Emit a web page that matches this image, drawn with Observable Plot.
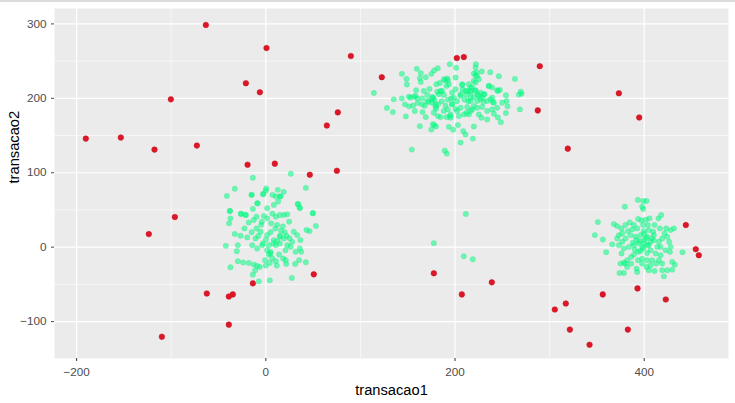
<!DOCTYPE html>
<html><head><meta charset="utf-8">
<script src="https://cdn.jsdelivr.net/npm/d3@7"></script>
<script src="https://cdn.jsdelivr.net/npm/@observablehq/plot@0.6"></script>
<style>
html,body{margin:0;padding:0;background:#fff;}
body{border-top:2px solid #dcdcdc;box-sizing:border-box;width:735px;height:403px;overflow:hidden;}
#chart svg{display:block;}
</style></head><body><div id="chart"></div>
<script>
// outliers (red)
const redX = [-190.3,-153.3,-117.7,-100.4,-72.9,-63.4,-21.1,-6.3,0.7,-19.3,9.5,46.5,75.1,64.5,76.1,89.9,
  122.6,201.9,209.3,289.6,287.5,373.2,394.7,319.2,
  -96.2,-123.7,50.7,-13.7,-62.4,-39.1,-34.9,-39.1,-109.9,
  177.6,207.2,238.9,305.5,317.1,321.4,342.2,356.2,382.7,392.9,422.8,444,454.5,457.7];
const redY = [145.9,147.3,131.1,198.6,136.5,298.6,220.3,208.1,267.6,110.8,112.2,97.3,102.7,163.5,181.1,256.8,
  228.4,254.1,255.4,243.2,183.8,206.8,174.3,132.4,
  40.5,17.6,-36.5,-48.6,-62.2,-66.2,-63.5,-104.1,-120.3,
  -35.1,-63.5,-47.3,-83.8,-75.7,-110.8,-131.1,-63.5,-110.8,-55.4,-70.3,29.7,-2.7,-10.8];

// regular transactions (green)
const greenX = [
  // cluster near (0, 20)
  -13.7,-32.8,-41.2,-14.8,-2.7,0.4,-0.1,7.1,12.7,19,26.4,42.3,10.6,15,
  -8.5,33.8,35.9,49.7,-38,-26.4,-21.5,
  -15.2,-9.2,-2.8,1.4,8.5,13,15.5,34.2,35.9,-38,-26.1,-21.1,-13.7,-37.4,-38.8,49.7,52.9,46.2,43,
  -32.8,-26.8,-19.7,-22.6,-18,-12.7,-9.9,-4.2,1.4,5.6,10.6,14.8,19,22.6,24.7,29.6,33.1,36.6,37.4,35.9,
  27.8,22.6,19,14.8,8.5,1.4,-5.6,-10.9,-14.4,-9.2,-3.9,1.4,4.9,3.2,-42.3,-29.6,-30.7,-29.6,-24,-18,
  -12.7,-9.2,-6.3,-0.7,4.2,6.7,10.6,14.1,18.3,21.1,21.5,31,35.2,42.3,27.5,4.2,-7.4,-11.3,-13.7,-37.4,
  0,11.6,4.9,10.6,14.8,20.8,26.1,31.4,
  5,10,-5,15,0,20,-10,8,12,-2,18,3,-8,25,7,-15,12,16,22,-3,
  // cluster near (200, 200)
  114.2,154.3,189.2,191.3,
  143.8,148.7,149.1,159.6,163.8,162.8,163.8,169.1,175.1,177.9,181.8,194.5,201.2,222,228.3,237.2,246.3,263.3,
  269.4,270.3,267.5,268.6,253.8,254.5,255.5,253.8,248.5,245.3,241.1,234,228,225.2,219.9,218.9,211.1,208.7,
  205.9,203,198.1,193.5,195.3,191.1,184.7,178,174.9,179.8,176.6,162.8,169.1,165.7,157.5,148,134.3,128,
  135.3,143.8,147,151.2,156.6,151.5,155.8,160.7,165.3,170.6,175.9,179.4,177,181.3,184.7,188.2,192.4,197,
  200.6,195.3,188.2,184,189.6,191.7,180.4,173,167,158.9,170.6,207.6,214.6,216.4,219.9,221.7,222.7,225.2,
  219.9,211.1,216.4,221.7,227,230.5,235.8,239.3,244.6,247.4,239.3,234,228.7,223.4,216.4,210.1,205.9,212.9,
  218.2,223.4,228.7,234,239.3,244.6,249.9,205.9,200.6,197,209.4,214.6,204.1,193.5,200.6,221.7,
  172,178,182,176,186,168,180,212,216,220,208,214,218,224,190,196,202,230,240,160,
  175.1,179.4,182.9,186.4,191,192.4,188.2,196.9,198.7,205.8,207.6,212.9,216.4,221.7,223.5,221.7,225.2,227,
  231.2,235.8,237.5,241.1,245.3,177.6,181.9,192.4,194.5,202.3,212.2,216.4,219.9,165.3,158.3,152.8,
  // stragglers below
  177.6,211.4,209.3,218.8,
  // cluster near (400, 10)
  393.3,398.9,402.4,397.9,398.9,379.5,351,347.8,356.3,359.8,366.2,367.9,371.4,376,380.2,384.8,389.1,393.6,
  397.1,401.7,405.6,410.9,415.1,418,416.6,423.2,427.9,431.4,424.3,426.4,427.9,427.2,429.6,432.4,429.6,424.3,
  420.8,419,415.5,410.9,404.9,402.4,392.6,391.9,378.5,373.9,374.9,378.5,382,386.2,389.1,393.6,398.9,403.1,
  406.7,410.2,415.5,419,421.5,409.5,404.9,399.6,396.1,390.8,385.5,380.2,376.7,373.2,378.5,383.8,389.1,394.4,
  399.6,403.1,406.7,412,417.3,422.6,417.3,408.4,403.1,397.9,393.3,386.2,382,397.9,406.7,412.7,373.2,376.7,
  382.7,387.3,392.6,398.9,403.9,410.2,413.8,440.5,419,380.2,376,371.4,
  395,400,402,398,405,392,400,396,408,390,403,388
];
const greenY = [
  93.2,78.4,68.9,70.3,71.6,78.8,76,70.3,77,74.3,98.6,79.7,68,68.5,
  58.9,58.1,52.2,45.4,48.6,45,43.2,
  70.3,59,71.2,52.3,56.8,61.3,68,57.7,53.2,48.6,44.6,43.2,51.4,38.7,32,46,28.4,21.6,23,
  17.6,15.3,13.1,25.2,33.3,36.5,41,34.2,38.7,32,41,43.2,43.2,44.1,34.2,20.7,16.2,9.5,-6.3,-1.8,
  7.2,2.7,11.7,14,9.5,16.2,20.7,11.7,2.7,-1.8,2.7,-4.1,-8.6,2.7,1.8,2.7,-5.4,-18.9,-20.7,-21.2,
  -23.4,-25.2,-26.6,-17.6,-21.2,-14.9,-18.9,-9.9,-15.3,-17.6,-22.5,-22.5,-17.6,-20.3,-41.4,-44.6,-45.9,-31.1,-36.9,-27,
  -24.8,-24.8,-6.3,2.7,5,-4.1,0.5,-6.3,
  20,25,30,15,10,20,25,5,30,42,28,-10,15,12,45,20,8,22,15,5,
  207.2,131.1,129.7,125.7,
  232.9,226.1,218.5,239.6,233.8,227,222.1,228.4,232.9,237.4,240.5,245.9,241,245.9,236,235.1,229.7,226.1,
  209,206.3,205,185.1,204.1,196.4,189.2,180.2,168,174.3,179.3,171.6,173.9,178.4,162.2,145.9,151.4,155.9,
  140.5,164,157.7,161.7,173.9,174.8,174.8,164,158.1,162.2,165.3,162.6,174.8,181.5,182.9,175.7,181.5,186.9,
  198.6,200,191.9,202.3,202.3,189.2,190.5,193.7,200,196.4,194.1,188.3,200.9,209,209.9,204.5,198.2,192.3,
  185.6,178.4,182.9,220.7,224.3,226.6,218.9,212.6,209.9,210.8,204.5,218,218.9,214.4,223.4,230.2,234.7,225.7,
  233.3,209.9,207.7,210.8,207.7,205.4,216.7,214.4,210.8,211.3,200.9,196.4,200.9,196.4,196.4,198.2,187.4,188.3,
  185.1,187.4,188.3,182.9,185.1,187.4,194.1,205.4,212.2,207.7,178.4,178.4,176.1,218.9,227.9,241.4,
  195,198,192,202,196,190,186,205,210,202,212,196,215,205,190,200,196,195,195,200,
  198.6,191.9,205.4,209.9,216.7,224.3,225.7,191.9,200.9,203.2,218.9,209.9,200.9,209.9,230.2,221.2,203.2,198.6,
  205.4,216.7,198.6,194.1,209.9,180.6,176.1,185.1,176.1,182.9,180.6,182.9,189.6,191.9,203.2,200.9,
  5.4,44.6,-12.2,-16.2,
  63.5,62.1,62.1,54.4,51.3,54.4,33.7,16.2,10.3,-6.8,3.6,31,28.3,25.2,29.7,33.3,29.7,37.8,
  36,36.9,38.7,29.7,38.7,43.2,25.2,25.2,22.9,25.2,13.9,7.2,0.4,-6.3,-19.9,-23.5,-30.2,-31.1,
  -39.2,-22.1,-17.6,-32,-31.1,-26.6,-33.4,-28.8,-34.7,-34.7,-22.1,-20.8,-17.6,-13.1,-10,-6.3,-1.8,2.7,
  7.2,9.4,7.2,11.7,18.4,20.7,22.9,21.6,16.2,13.9,16.2,11.7,7.2,2.7,-1.8,0.4,2.7,4.9,
  9.4,13.9,-4.1,-8.6,-10.9,-4.1,0.4,-17.6,-17.6,-15.4,-17.6,-22.1,-26.6,-22.1,-24.4,-22.1,16.2,18.4,
  21.6,23.8,25.2,29.7,29.7,16.2,0.4,-6.8,-31.1,-22.1,-8.6,11.7,
  8,5,12,0,3,10,18,-5,12,-3,-8,6
];

const xMajor = [-200, 0, 200, 400];
const xMinor = [-100, 100, 300];
const yMajor = [-100, 0, 100, 200, 300];
const yMinor = [-50, 50, 150, 250];

const green = greenX.map((x, i) => ({x, y: greenY[i]}));
const red = redX.map((x, i) => ({x, y: redY[i]}));

const chart = Plot.plot({
  width: 735,
  height: 401,
  marginLeft: 54,
  marginRight: 7,
  marginTop: 6,
  marginBottom: 45,
  style: {fontFamily: "Liberation Sans, Arial, sans-serif", background: "#fff"},
  x: {domain: [-223.4, 489.1]},
  y: {domain: [-149.6, 320.7]},
  marks: [
    Plot.frame({fill: "#EBEBEB", stroke: null}),
    Plot.ruleX(xMinor, {stroke: "#fff", strokeWidth: 0.6}),
    Plot.ruleY(yMinor, {stroke: "#fff", strokeWidth: 0.6}),
    Plot.ruleX(xMajor, {stroke: "#fff", strokeWidth: 1.2}),
    Plot.ruleY(yMajor, {stroke: "#fff", strokeWidth: 1.2}),
    Plot.dot(green, {x: "x", y: "y", r: 2.7, fill: "#00FF7F", fillOpacity: 0.55, stroke: "#22d98a", strokeOpacity: 0.35, strokeWidth: 0.6}),
    Plot.dot(red, {x: "x", y: "y", r: 2.8, fill: "#dd1728", stroke: "#c8101f", strokeWidth: 0.5}),
    Plot.axisX({ticks: xMajor, tickSize: 3, tickPadding: 6, fontSize: 11.7, color: "#4D4D4D", stroke: "#333", label: null}),
    Plot.axisY({ticks: yMajor, tickSize: 3, tickPadding: 5, fontSize: 11.7, color: "#4D4D4D", label: null}),
    Plot.text(["transacao1"], {frameAnchor: "bottom", dy: 32, fontSize: 14.7, fill: "#000", lineAnchor: "middle"}),
    Plot.text(["transacao2"], {frameAnchor: "left", dx: -40, rotate: -90, fontSize: 14.7, fill: "#000", lineAnchor: "middle"})
  ]
});
document.getElementById("chart").appendChild(chart);
</script></body></html>
